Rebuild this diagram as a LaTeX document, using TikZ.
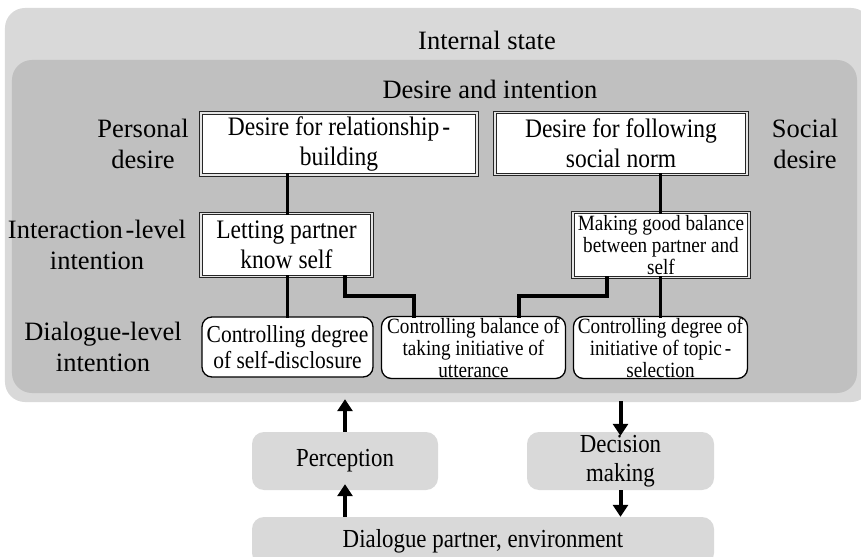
\documentclass[tikz,border=0pt]{standalone}
\usepackage{fontspec}
\setmainfont{Liberation Serif}
\newfontfamily\narrowserif{Liberation Serif}[FakeStretch=0.88]
\usetikzlibrary{arrows.meta}
\definecolor{statefill}{RGB}{217,217,217}
\definecolor{desirefill}{RGB}{192,192,192}
\newcommand{\hy}{\kern3bp-}
\begin{document}
\begin{tikzpicture}[x=1bp,y=-1bp,
  fhead/.style={font=\fontsize{26.5bp}{31bp}\selectfont},
  fbox/.style={font=\narrowserif\fontsize{26.7bp}{30bp}\selectfont},
  fsmall/.style={font=\narrowserif\fontsize{24.4bp}{25.5bp}\selectfont},
  ftiny/.style={font=\narrowserif\fontsize{21.8bp}{22bp}\selectfont},
  fenv/.style={font=\narrowserif\fontsize{26bp}{29bp}\selectfont},
  panel/.style={rounded corners=20bp, inner sep=0pt},
  dbox/.style={draw=black!85, line width=0.8bp, double=white!80!gray, double distance=1.8bp,
    fill=white, inner sep=0pt, align=center},
  rbox/.style={draw=black, line width=1.3bp, rounded corners=10bp, fill=white,
    inner sep=0pt, align=center},
  gbox/.style={fill=statefill, rounded corners=12bp, inner sep=0pt, align=center},
  link/.style={line width=3.8bp, line cap=rect},
  flow/.style={line width=4bp, -{Triangle[width=15bp,length=12bp]}},
  lbl/.style={align=center, inner sep=0pt}
]
\useasboundingbox (0,0) rectangle (861,557);
\fill[white] (0,0) rectangle (861,557);

% internal state and desire/intention panels
\node[panel, fill=statefill, minimum width=866bp, minimum height=394bp] (state) at (438,205) {};
\node[panel, fill=desirefill, minimum width=845bp, minimum height=333bp] (desire) at (434.5,226.5) {};
\node[fhead, lbl] (statet) at (487,40) {Internal state};
\node[fhead, lbl] (desiret) at (490,89) {Desire and intention};

% row labels
\node[fhead, lbl] (pers) at (143,144) {Personal\\desire};
\node[fhead, lbl] (soc) at (805,144) {Social\\desire};
\node[fhead, lbl] (inter) at (97,245) {Interaction\hy level\\intention};
\node[fhead, lbl] (dial) at (103,347) {Dialogue-level\\intention};

% desires
\node[dbox, fbox, minimum width=276bp, minimum height=62bp] (A) at (339,144) {Desire for relationship\hy\\building};
\node[dbox, fbox, minimum width=252bp, minimum height=62bp] (B) at (621,143.5) {Desire for following\\social norm};

% interaction-level intentions
\node[dbox, fbox, minimum width=171bp, minimum height=63bp] (C) at (286.5,245) {Letting partner\\know self};
\node[dbox, ftiny, minimum width=176bp, minimum height=65bp] (D) at (661,245) {Making good balance\\between partner and\\self};

% dialogue-level intentions
\node[rbox, fsmall, minimum width=171bp, minimum height=60bp] (E) at (287.5,347) {Controlling degree\\of self-disclosure};
\node[rbox, ftiny, minimum width=184bp, minimum height=62bp] (F) at (473.5,347.5) {Controlling balance of\\taking initiative of\\utterance};
\node[rbox, ftiny, minimum width=174bp, minimum height=62bp] (G) at (660.5,347.5) {Controlling degree of\\initiative of topic\hy\\selection};

% links between levels
\draw[link] (A.south -| E.north) -- (C.north -| E.north);
\draw[link] (C.south -| E.north) -- (E.north);
\draw[link] (B.south -| G.north) -- (D.north -| G.north);
\draw[link] (D.south -| G.north) -- (G.north);
\draw[link] (C.south -| 345,0) |- (414,296) -- (F.north -| 414,0);
\draw[link] (D.south -| 607,0) |- (519,296) -- (F.north -| 519,0);

% perception / decision making / environment
\node[gbox, fenv, minimum width=186bp, minimum height=58bp] (P) at (345,461) {Perception};
\node[gbox, fenv, minimum width=187bp, minimum height=58bp] (M) at (620.5,461) {Decision\\making};
\node[gbox, fenv, minimum width=462bp, minimum height=48bp] (env) at (483,541) {Dialogue partner, environment};

\draw[flow] (P.north) -- ([yshift=3bp]state.south -| P.north);
\draw[flow] (env.north -| P.south) -- ([yshift=6bp]P.south);
\draw[flow] ([yshift=1bp]state.south -| M.north) -- ([yshift=-4bp]M.north);
\draw[flow] (M.south) -- (env.north -| M.south);
\end{tikzpicture}
\end{document}
